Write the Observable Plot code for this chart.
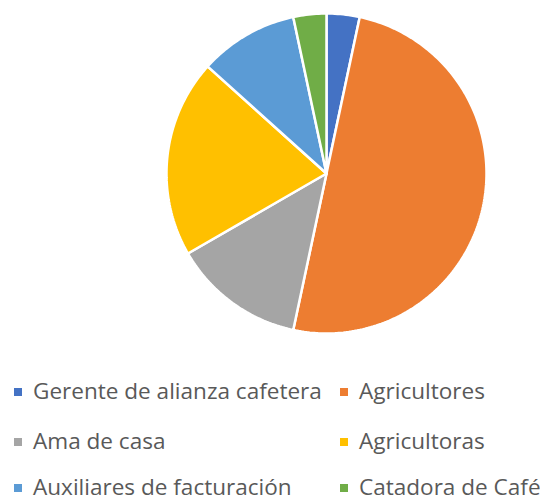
<!DOCTYPE html>
<html>
<head>
<meta charset="utf-8">
<script src="https://cdn.jsdelivr.net/npm/d3@7"></script>
<script src="https://cdn.jsdelivr.net/npm/@observablehq/plot@0.6"></script>
<style>
  html, body { margin: 0; padding: 0; background: #fff; }
  #wrap { position: relative; width: 540px; height: 502px; overflow: hidden; }
  #chart svg { display: block; }
  .item { position: absolute; font-family: "Open Sans", sans-serif; font-size: 21px; color: #595959; line-height: 22px; white-space: nowrap; }
  .sw { position: absolute; width: 8px; height: 8px; }
</style>
</head>
<body>
<div id="wrap"><div id="chart"></div><div id="legend"></div></div>
<script>
const categories = ["Gerente de alianza cafetera", "Agricultores", "Ama de casa", "Agricultoras", "Auxiliares de facturación", "Catadora de Café"];
const values = [1, 15, 4, 6, 3, 1];
const colors = ["#4472C4", "#ED7D31", "#A5A5A5", "#FFC000", "#5B9BD5", "#70AD47"];

const W = 540, H = 340, cx = 326, cy = 173, R = 160;

const total = d3.sum(values);
const pts = [];
let acc = 0;
categories.forEach((c, i) => {
  const a0 = acc / total * 2 * Math.PI;
  acc += values[i];
  const a1 = acc / total * 2 * Math.PI;
  pts.push({name: c, x: 0, y: 0});
  const n = Math.max(4, Math.ceil((a1 - a0) / (Math.PI / 180)));
  for (let k = 0; k <= n; k++) {
    const a = a0 + (a1 - a0) * k / n;
    pts.push({name: c, x: Math.sin(a), y: Math.cos(a)});
  }
  pts.push({name: c, x: 0, y: 0});
});

const plot = Plot.plot({
  width: W, height: H,
  margin: 0,
  x: {domain: [-cx / R, (W - cx) / R], axis: null},
  y: {domain: [-(H - cy) / R, cy / R], axis: null},
  color: {domain: categories, range: colors},
  marks: [
    Plot.line(pts, {x: "x", y: "y", z: "name", fill: "name", stroke: "white", strokeWidth: 2.5, strokeLinejoin: "miter", curve: "linear"})
  ]
});
document.getElementById("chart").appendChild(plot);

const legend = document.getElementById("legend");
const colX = [14, 340];
const rowY = [392, 442, 488];
const targetW = 289; // width of first label in reference
categories.forEach((c, i) => {
  const col = i % 2, row = Math.floor(i / 2);
  const sw = document.createElement("div");
  sw.className = "sw";
  sw.style.left = colX[col] + "px";
  sw.style.top = (rowY[row] - 4) + "px";
  sw.style.background = colors[i];
  legend.appendChild(sw);
  const t = document.createElement("div");
  t.className = "item";
  t.style.left = (colX[col] + 19) + "px";
  t.style.top = (rowY[row] - 12) + "px";
  t.textContent = c;
  legend.appendChild(t);
});
// fit font size so the first label matches the reference width
const first = legend.querySelector(".item");
const w0 = first.getBoundingClientRect().width;
const fs = 21 * targetW / w0;
legend.querySelectorAll(".item").forEach((el) => {
  el.style.fontSize = fs.toFixed(2) + "px";
});
</script>
</body>
</html>
